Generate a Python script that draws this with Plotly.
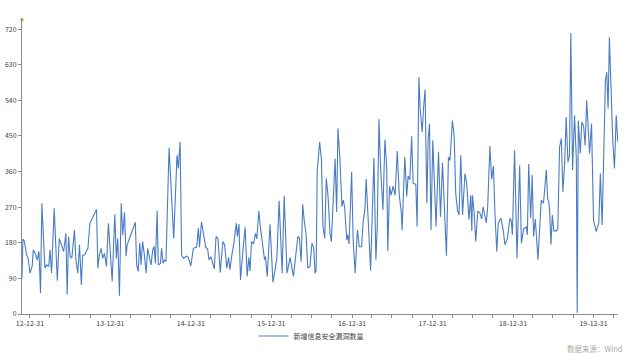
import pandas as pd
import plotly.graph_objects as go

start_date = "2012-12-31"
# observation time, in days from 2012-12-31
day_offsets = [
    -36, -32, -26, -15, -8, 0, 10, 15, 24, 33, 41, 48, 54, 61, 68, 76, 85, 91, 98, 110,
    118, 124, 133, 143, 153, 163, 169, 175, 182, 190, 202, 208, 217, 225, 233, 239, 248, 263, 272, 302,
    308, 315, 323, 330, 338, 347, 356, 365, 373, 385, 392, 398, 406, 414, 421, 429, 436, 441, 478, 484,
    491, 498, 504, 511, 519, 527, 534, 543, 549, 557, 563, 569, 577, 582, 592, 597, 604, 610, 617, 631,
    652, 667, 673, 681, 688, 696, 711, 718, 730, 741, 756, 764, 769, 778, 788, 797, 806, 812, 821, 836,
    844, 853, 863, 875, 883, 893, 901, 907, 916, 925, 936, 941, 948, 955, 966, 976, 985, 993, 998, 1005,
    1014, 1023, 1029, 1038, 1045, 1053, 1064, 1068, 1076, 1089, 1102, 1112, 1120, 1130, 1138, 1144, 1153, 1159, 1166, 1180,
    1195, 1215, 1222, 1230, 1237, 1245, 1252, 1260, 1270, 1279, 1287, 1293, 1298, 1303, 1314, 1322, 1329, 1337, 1344, 1352,
    1361, 1367, 1379, 1384, 1391, 1397, 1406, 1415, 1421, 1427, 1437, 1442, 1447, 1459, 1466, 1475, 1485, 1494, 1504, 1512,
    1519, 1525, 1534, 1545, 1560, 1569, 1575, 1583, 1590, 1601, 1610, 1618, 1623, 1631, 1638, 1647, 1656, 1666, 1675, 1684,
    1688, 1700, 1709, 1715, 1723, 1731, 1738, 1750, 1756, 1764, 1770, 1779, 1785, 1792, 1800, 1806, 1812, 1819, 1827, 1835,
    1842, 1853, 1862, 1871, 1880, 1889, 1898, 1905, 1916, 1924, 1931, 1939, 1946, 1954, 1962, 1973, 1981, 1991, 1999, 2004,
    2007, 2014, 2022, 2031, 2041, 2049, 2055, 2062, 2070, 2076, 2086, 2094, 2102, 2109, 2117, 2124, 2136, 2147, 2154, 2165,
    2177, 2183, 2188, 2198, 2209, 2221, 2229, 2239, 2251, 2256, 2262, 2271, 2278, 2284, 2292, 2304, 2319, 2329, 2342, 2348,
    2353, 2357, 2363, 2369, 2376, 2387, 2394, 2402, 2410, 2417, 2425, 2432, 2440, 2447, 2453, 2461, 2470, 2478, 2482, 2487,
    2496, 2503, 2511, 2518, 2525, 2538, 2547, 2556, 2568, 2580, 2587, 2595, 2604, 2610, 2616, 2622, 2628, 2636, 2643, 2651,
    2659, 2666,
]
vuln_counts = [
    91, 189, 185, 149, 141, 103, 120, 162, 153, 136, 158, 53, 280, 204, 116, 124, 120, 162, 103, 267,
    154, 84, 191, 175, 158, 204, 49, 196, 146, 141, 212, 140, 103, 175, 74, 149, 149, 166, 229, 264,
    116, 150, 166, 141, 153, 120, 229, 150, 82, 252, 140, 191, 46, 280, 199, 257, 146, 175, 232, 124,
    108, 180, 124, 183, 150, 103, 166, 140, 124, 162, 171, 128, 261, 124, 128, 166, 128, 136, 133, 420,
    191, 401, 368, 435, 149, 141, 146, 143, 122, 166, 169, 217, 169, 233, 200, 169, 164, 137, 145, 114,
    196, 190, 105, 183, 175, 116, 143, 112, 150, 179, 229, 196, 227, 86, 160, 219, 95, 143, 109, 183,
    177, 204, 190, 260, 220, 183, 137, 145, 95, 227, 80, 112, 143, 286, 196, 103, 298, 190, 103, 143,
    95, 196, 192, 132, 277, 230, 204, 116, 120, 179, 167, 103, 110, 363, 435, 390, 221, 191, 343, 297,
    204, 183, 330, 393, 258, 469, 390, 271, 288, 271, 187, 200, 177, 359, 187, 103, 212, 170, 170, 238,
    263, 341, 238, 110, 395, 137, 220, 492, 372, 263, 441, 372, 159, 323, 300, 323, 300, 412, 300, 258,
    212, 397, 297, 349, 339, 449, 330, 328, 221, 599, 515, 460, 520, 567, 280, 440, 481, 212, 439, 320,
    221, 410, 246, 382, 260, 147, 397, 388, 489, 450, 305, 262, 250, 401, 250, 355, 330, 238, 300, 210,
    300, 260, 183, 260, 255, 240, 271, 255, 230, 271, 424, 340, 374, 255, 158, 230, 242, 210, 175, 190,
    242, 235, 200, 414, 141, 375, 179, 215, 220, 200, 379, 242, 351, 196, 240, 137, 288, 280, 364, 290,
    285, 260, 175, 250, 210, 210, 215, 422, 443, 309, 380, 498, 384, 400, 710, 363, 502, 390, 3, 489,
    406, 485, 475, 426, 540, 406, 481, 238, 208, 230, 355, 225, 480, 590, 611, 519, 699, 560, 439, 368,
    502, 435,
]
series_name = "新增信息安全漏洞数量"
y_ticks = [0, 90, 180, 270, 360, 450, 540, 630, 720]

t0 = pd.Timestamp(start_date)
dates = t0 + pd.to_timedelta(day_offsets, unit="D")

# quarterly ticks, labels only on year ends
tick_dates = pd.date_range("2012-12-31", "2020-03-31", freq="QE")
tick_text = [d.strftime("%y-%m-%d") if d.month == 12 else "" for d in tick_dates]

FONT = "Noto Sans CJK SC, Microsoft YaHei, sans-serif"
AX = "#8c8c8c"

fig = go.Figure()
fig.add_trace(go.Scatter(
    x=dates, y=vuln_counts, mode="lines", name=series_name,
    line=dict(color="#4a7cc4", width=1.1),
))

fig.update_layout(
    width=640, height=353,
    margin=dict(l=22, r=22, t=18, b=39, autoexpand=False),
    paper_bgcolor="white", plot_bgcolor="white",
    font=dict(family=FONT, size=7, color="#555555"),
    showlegend=True,
    legend=dict(orientation="h", x=0.4849, xanchor="center",
                yref="container", y=0.048, yanchor="middle",
                font=dict(size=7, color="#444444"), itemwidth=30,
                bgcolor="rgba(0,0,0,0)"),
    xaxis=dict(
        type="date", automargin=False,
        range=[t0 + pd.Timedelta(days=-36), t0 + pd.Timedelta(days=2667)],
        tickvals=list(tick_dates), ticktext=tick_text,
        ticks="outside", ticklen=3, tickcolor=AX, tickwidth=1,
        showline=True, linecolor=AX, linewidth=1, showgrid=False, zeroline=False,
        tickfont=dict(size=7, color="#444444"),
    ),
    yaxis=dict(
        automargin=False,
        range=[0, 748], tickvals=y_ticks,
        ticks="outside", ticklen=3, tickcolor=AX, tickwidth=1,
        showline=True, linecolor=AX, linewidth=1, showgrid=False, zeroline=False,
        tickfont=dict(size=7, color="#444444"),
    ),
    annotations=[
        dict(x=0, y=1, xref="paper", yref="paper", ax=0, ay=6, axref="pixel", ayref="pixel",
             showarrow=True, arrowhead=1, arrowsize=0.8, arrowwidth=1, arrowcolor="#a89a40", text=""),
        dict(x=1.01, y=-0.115, xref="paper", yref="paper", xanchor="right", yanchor="middle",
             text="数据来源：Wind", showarrow=False, font=dict(size=7.5, color="#aaaaaa")),
    ],
)

fig.write_html("out.html")
